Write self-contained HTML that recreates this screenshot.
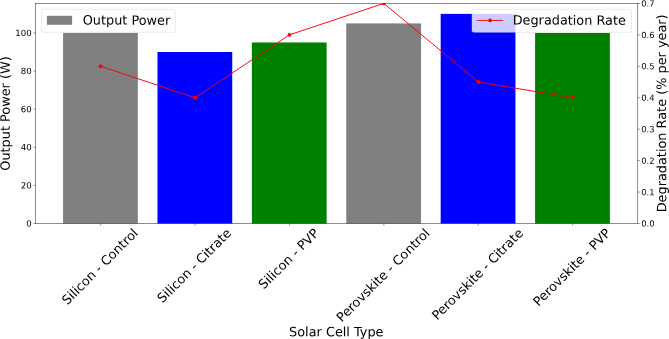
<!DOCTYPE html>
<html><head><meta charset="utf-8"><title>Solar Cell Chart</title>
<style>html,body{margin:0;padding:0;background:#fff;overflow:hidden}svg{display:block}</style></head>
<body>
<svg width="669" height="339" viewBox="0 0 669 339" font-family="'DejaVu Sans', 'Liberation Sans', sans-serif" fill="#000">
<rect width="669" height="339" fill="#fff"/>
<rect x="63.07" y="32.94" width="74.77" height="190.56" fill="#808080"/>
<rect x="157.47" y="51.99" width="74.77" height="171.51" fill="#0000ff"/>
<rect x="251.87" y="42.47" width="74.77" height="181.03" fill="#008000"/>
<rect x="346.28" y="23.41" width="74.77" height="200.09" fill="#808080"/>
<rect x="440.68" y="13.88" width="74.77" height="209.62" fill="#0000ff"/>
<rect x="535.09" y="32.94" width="74.77" height="190.56" fill="#008000"/>
<line x1="33.50" x2="35.50" y1="223.50" y2="223.50" stroke="#000" stroke-width="0.45"/>
<text transform="translate(31.60,226.54) rotate(0.03)" font-size="8.60" text-anchor="end">0</text>
<line x1="33.50" x2="35.50" y1="185.39" y2="185.39" stroke="#000" stroke-width="0.45"/>
<text transform="translate(31.60,188.43) rotate(0.03)" font-size="8.60" text-anchor="end">20</text>
<line x1="33.50" x2="35.50" y1="147.27" y2="147.27" stroke="#000" stroke-width="0.45"/>
<text transform="translate(31.60,150.31) rotate(0.03)" font-size="8.60" text-anchor="end">40</text>
<line x1="33.50" x2="35.50" y1="109.16" y2="109.16" stroke="#000" stroke-width="0.45"/>
<text transform="translate(31.60,112.20) rotate(0.03)" font-size="8.60" text-anchor="end">60</text>
<line x1="33.50" x2="35.50" y1="71.05" y2="71.05" stroke="#000" stroke-width="0.45"/>
<text transform="translate(31.60,74.09) rotate(0.03)" font-size="8.60" text-anchor="end">80</text>
<line x1="33.50" x2="35.50" y1="32.94" y2="32.94" stroke="#000" stroke-width="0.45"/>
<text transform="translate(31.60,35.98) rotate(0.03)" font-size="8.60" text-anchor="end">100</text>
<line x1="637.80" x2="639.80" y1="223.50" y2="223.50" stroke="#000" stroke-width="0.45"/>
<text transform="translate(641.25,226.59) rotate(0.03)" font-size="8.4">0.0</text>
<line x1="637.80" x2="639.80" y1="192.06" y2="192.06" stroke="#000" stroke-width="0.45"/>
<text transform="translate(641.25,195.15) rotate(0.03)" font-size="8.4">0.1</text>
<line x1="637.80" x2="639.80" y1="160.61" y2="160.61" stroke="#000" stroke-width="0.45"/>
<text transform="translate(641.25,163.70) rotate(0.03)" font-size="8.4">0.2</text>
<line x1="637.80" x2="639.80" y1="129.17" y2="129.17" stroke="#000" stroke-width="0.45"/>
<text transform="translate(641.25,132.26) rotate(0.03)" font-size="8.4">0.3</text>
<line x1="637.80" x2="639.80" y1="97.73" y2="97.73" stroke="#000" stroke-width="0.45"/>
<text transform="translate(641.25,100.82) rotate(0.03)" font-size="8.4">0.4</text>
<line x1="637.80" x2="639.80" y1="66.29" y2="66.29" stroke="#000" stroke-width="0.45"/>
<text transform="translate(641.25,69.37) rotate(0.03)" font-size="8.4">0.5</text>
<line x1="637.80" x2="639.80" y1="34.84" y2="34.84" stroke="#000" stroke-width="0.45"/>
<text transform="translate(641.25,37.93) rotate(0.03)" font-size="8.4">0.6</text>
<line x1="637.80" x2="639.80" y1="3.40" y2="3.40" stroke="#000" stroke-width="0.45"/>
<text transform="translate(641.25,6.49) rotate(0.03)" font-size="8.4">0.7</text>
<line x1="100.64" x2="100.64" y1="223.50" y2="225.50" stroke="#000" stroke-width="0.45"/>
<text x="0" y="4.45" font-size="12.85" text-anchor="middle" transform="translate(99.84,266.55) rotate(-45)">Silicon - Control</text>
<line x1="195.04" x2="195.04" y1="223.50" y2="225.50" stroke="#000" stroke-width="0.45"/>
<text x="0" y="4.45" font-size="12.85" text-anchor="middle" transform="translate(194.24,265.57) rotate(-45)">Silicon - Citrate</text>
<line x1="289.45" x2="289.45" y1="223.50" y2="225.50" stroke="#000" stroke-width="0.45"/>
<text x="0" y="4.45" font-size="12.85" text-anchor="middle" transform="translate(288.65,258.72) rotate(-45)">Silicon - PVP</text>
<line x1="383.85" x2="383.85" y1="223.50" y2="225.50" stroke="#000" stroke-width="0.45"/>
<text x="0" y="4.45" font-size="12.85" text-anchor="middle" transform="translate(383.05,275.16) rotate(-45)">Perovskite - Control</text>
<line x1="478.26" x2="478.26" y1="223.50" y2="225.50" stroke="#000" stroke-width="0.45"/>
<text x="0" y="4.45" font-size="12.85" text-anchor="middle" transform="translate(477.46,274.19) rotate(-45)">Perovskite - Citrate</text>
<line x1="572.66" x2="572.66" y1="223.50" y2="225.50" stroke="#000" stroke-width="0.45"/>
<text x="0" y="4.45" font-size="12.85" text-anchor="middle" transform="translate(571.86,267.33) rotate(-45)">Perovskite - PVP</text>
<clipPath id="c"><rect x="35.5" y="3.4" width="602.3" height="220.1"/></clipPath>
<g clip-path="url(#c)"><polyline points="100.64,66.29 195.04,97.73 289.45,34.84 383.85,3.40 478.26,82.01 572.66,97.73" fill="none" stroke="#ff0000" stroke-width="0.95" stroke-linejoin="round"/>
<circle cx="100.64" cy="66.29" r="1.9" fill="#ff0000"/>
<circle cx="195.04" cy="97.73" r="1.9" fill="#ff0000"/>
<circle cx="289.45" cy="34.84" r="1.9" fill="#ff0000"/>
<circle cx="383.85" cy="3.40" r="1.9" fill="#ff0000"/>
<circle cx="478.26" cy="82.01" r="1.9" fill="#ff0000"/>
<circle cx="572.66" cy="97.73" r="1.9" fill="#ff0000"/>
</g>
<rect x="35.50" y="3.40" width="602.30" height="220.10" fill="none" stroke="#000" stroke-width="0.45"/>
<text transform="translate(336.3,336.2) rotate(0.03)" font-size="12.85" text-anchor="middle">Solar Cell Type</text>
<text font-size="12.85" text-anchor="middle" transform="translate(9.75,113.5) rotate(-90.03)">Output Power (W)</text>
<text font-size="12.87" text-anchor="middle" transform="translate(666.1,113.35) rotate(-90.03)">Degradation Rate (% per year)</text>
<rect x="41.6" y="9.3" width="133.6" height="23.0" rx="1.8" fill="#fff" fill-opacity="0.8" stroke="#ccc" stroke-opacity="0.8" stroke-width="0.55"/>
<rect x="46.9" y="15.8" width="25.2" height="9.0" fill="#808080"/>
<text transform="translate(82.7,24.6) rotate(0.03)" font-size="12.85">Output Power</text>
<rect x="472" y="9.3" width="159.4" height="23.0" rx="1.8" fill="#fff" fill-opacity="0.8" stroke="#ccc" stroke-opacity="0.8" stroke-width="0.55"/>
<line x1="476.9" x2="503.2" y1="20.4" y2="20.4" stroke="#f00" stroke-width="0.95"/><circle cx="490.1" cy="20.4" r="1.9" fill="#f00"/>
<text transform="translate(512.7,24.6) rotate(0.03)" font-size="12.83">Degradation Rate</text>
</svg>
</body></html>
